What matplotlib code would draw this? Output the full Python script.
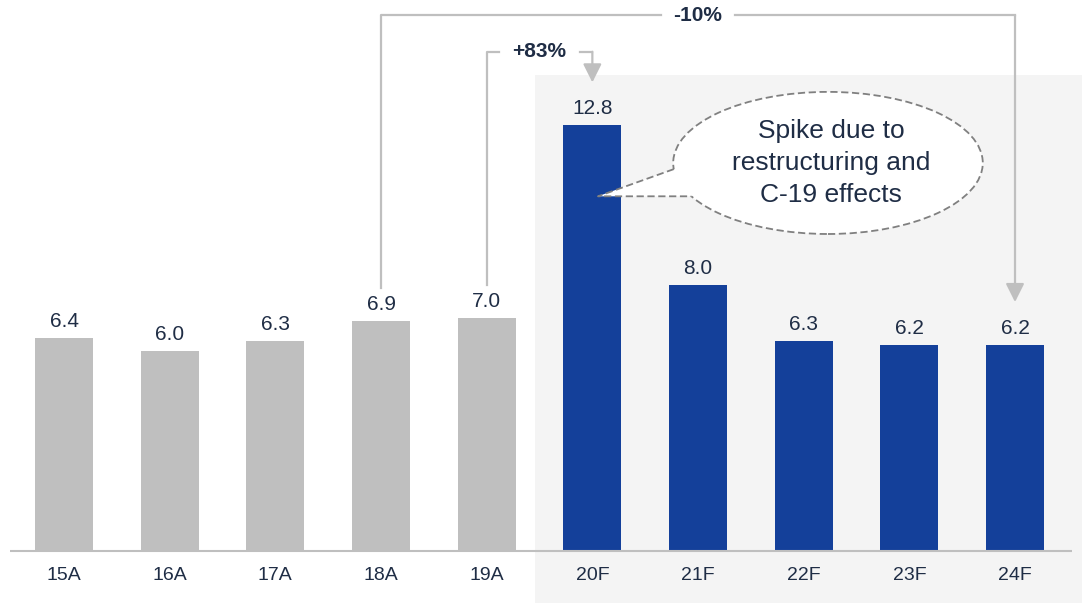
import matplotlib.pyplot as plt
from matplotlib.patches import Ellipse, Polygon, Rectangle
import numpy as np

plt.rcParams['font.family'] = ['Liberation Sans', 'DejaVu Sans']

# Data
years = ['15A', '16A', '17A', '18A', '19A', '20F', '21F', '22F', '23F', '24F']
values = [6.4, 6.0, 6.3, 6.9, 7.0, 12.8, 8.0, 6.3, 6.2, 6.2]
actual = [True, True, True, True, True, False, False, False, False, False]

TEXT = '#1F2D45'
GREY_BAR = '#BFBFBF'
BLUE_BAR = '#14409A'
LINE = '#BFBFBF'

fig = plt.figure(figsize=(10.82, 6.03), dpi=100)
ax = fig.add_axes([0, 0, 1, 1])
ax.set_xlim(-0.606, 9.634)
ax.set_ylim(-1.5625, 16.556)
ax.axis('off')

x = np.arange(len(years))
colors = [GREY_BAR if a else BLUE_BAR for a in actual]

# forecast background band
first_f = actual.index(False)
ax.add_patch(Rectangle((first_f - 0.543, -2), 20, 14.3 + 2, facecolor='#F4F4F4',
                       edgecolor='none', zorder=0))

ax.bar(x, values, width=0.55, color=colors, zorder=2)
ax.plot([-0.51, 9.54], [0, 0], color=LINE, lw=1.5, zorder=3, solid_capstyle='butt')

for xi, v, lab in zip(x, values, years):
    ax.text(xi, v + 0.33, f'{v:.1f}', ha='center', va='baseline', fontsize=15, color=TEXT)
    ax.text(xi, -0.87, lab, ha='center', va='baseline', fontsize=14, color=TEXT)


def bracket(i0, i1, top, label, gap):
    mid = (i0 + i1) / 2
    y0 = values[i0] + 1.0
    y1 = values[i1] + 1.28
    ax.plot([i0, i0, mid - gap], [y0, top, top], color=LINE, lw=1.6, zorder=3)
    ax.plot([mid + gap, i1], [top, top], color=LINE, lw=1.6, zorder=3)
    ax.annotate('', xy=(i1, y1), xytext=(i1, top),
                arrowprops=dict(arrowstyle='-|>,head_width=0.4,head_length=0.8',
                                mutation_scale=14, color=LINE, lw=1.6,
                                shrinkA=0, shrinkB=0), zorder=3)
    ax.text(mid, top, label, ha='center', va='center', fontsize=15,
            fontweight='bold', color=TEXT)


bracket(3, 9, 16.1, '-10%', 0.35)
bracket(4, 5, 15.0, '+83%', 0.38)

# callout bubble
cx, cy, w, h = 7.23, 11.66, 2.93, 4.27
ax.add_patch(Ellipse((cx, cy), w, h, facecolor='white', edgecolor='#808080',
                     lw=1.3, linestyle=(0, (4, 2)), zorder=4))
t1, t2 = np.radians(185), np.radians(208)
p1 = (cx + w / 2 * np.cos(t1), cy + h / 2 * np.sin(t1))
p2 = (cx + w / 2 * np.cos(t2), cy + h / 2 * np.sin(t2))
tip = (5.053, p2[1])
ax.add_patch(Polygon([tip, p1, (cx - 0.9, cy - 0.3), p2], closed=True,
                     facecolor='white', edgecolor='none', zorder=5))
ax.plot([p1[0], tip[0], p2[0]], [p1[1], tip[1], p2[1]], color='#808080',
        lw=1.3, linestyle=(0, (4, 2)), zorder=6)
ax.text(7.26, cy, 'Spike due to\nrestructuring and\nC-19 effects', ha='center',
        va='center', fontsize=19, color=TEXT, linespacing=1.4, zorder=7)

fig.savefig('out.png', dpi=100)
